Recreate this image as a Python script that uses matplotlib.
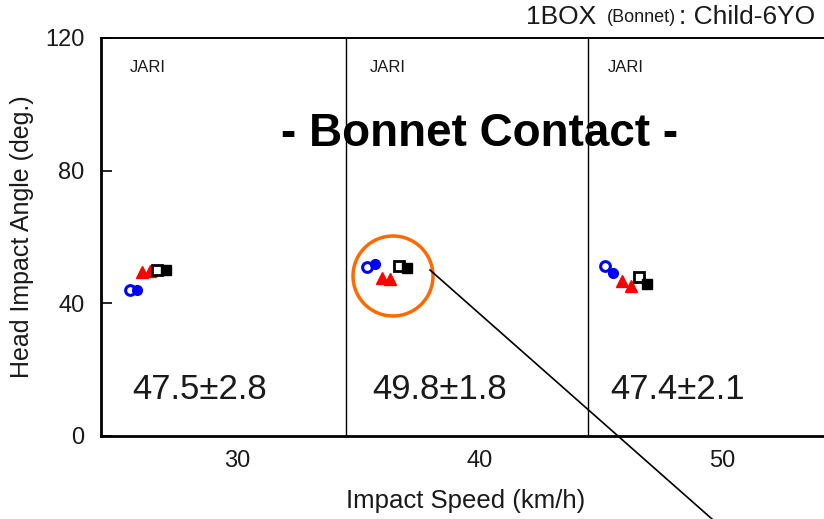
import matplotlib
matplotlib.use("Agg")
import matplotlib.pyplot as plt
from matplotlib.lines import Line2D
from matplotlib.patches import Ellipse

plt.rcParams["font.family"] = ["Liberation Sans", "DejaVu Sans"]

# head impact angle vs impact speed, three speed groups
blue_open_x = [25.6, 35.35, 45.2]
blue_open_y = [44.0, 51.0, 51.2]
blue_fill_x = [25.9, 35.7, 45.5]
blue_fill_y = [44.0, 51.9, 49.1]
red_a_x = [26.1, 36.0, 45.9]
red_a_y = [49.4, 47.6, 46.7]
red_b_x = [26.4, 36.3, 46.25]
red_b_y = [49.6, 47.3, 45.2]
black_open_x = [26.7, 36.7, 46.6]
black_open_y = [50.0, 51.2, 47.9]
black_fill_x = [27.1, 37.0, 46.9]
black_fill_y = [50.2, 50.6, 45.8]

group_dividers = [34.5, 44.5]
group_text_x = [25.6, 35.5, 45.3]
group_means = ["47.5\u00b12.8", "49.8\u00b11.8", "47.4\u00b12.1"]

TXT = "#1a1a1a"

fig = plt.figure(figsize=(8.24, 5.19), dpi=100)
ax = fig.add_axes([101 / 824, 83 / 519, 730 / 824, 398 / 519])

ms = 7
ax.plot(blue_open_x, blue_open_y, "o", ms=ms, mfc="white", mec="blue", mew=2.2, ls="none")
ax.plot(blue_fill_x, blue_fill_y, "o", ms=ms, color="blue", ls="none")
ax.plot(red_a_x, red_a_y, "^", ms=ms + 1, color="red", ls="none")
ax.plot(red_b_x, red_b_y, "^", ms=ms + 1, color="red", ls="none")
ax.plot(black_open_x, black_open_y, "s", ms=ms, mfc="white", mec="black", mew=2, ls="none")
ax.plot(black_fill_x, black_fill_y, "s", ms=ms, color="black", ls="none")

for xd in group_dividers:
    ax.axvline(xd, color="black", lw=1.0)

for xt, m in zip(group_text_x, group_means):
    ax.text(xt, 111, "JARI", fontsize=12, color=TXT, va="center")
    ax.text(xt + 0.1, 14, m, fontsize=25, color=TXT, va="center")

ax.text(40.0, 91, "- Bonnet Contact -", fontsize=33, fontweight="bold",
        ha="center", va="center")

ax.set_xlim(24.4, 54.5)
ax.set_ylim(0, 120)
ax.set_xticks([30, 40, 50])
ax.set_yticks([0, 40, 80, 120])
ax.tick_params(axis="x", length=0, pad=10, labelsize=17, labelcolor=TXT)
ax.tick_params(axis="y", direction="in", length=8, width=1.2, pad=12,
               labelsize=17, labelcolor=TXT)
ax.spines["left"].set_linewidth(2)
ax.spines["bottom"].set_linewidth(2)
ax.spines["top"].set_linewidth(1.4)
ax.spines["right"].set_visible(False)

ax.set_xlabel("Impact Speed (km/h)", fontsize=18.5, color=TXT, labelpad=12)
ax.set_ylabel("Head Impact Angle (deg.)", fontsize=18, color=TXT, labelpad=8)

# header: pieces laid out right to left
fig.canvas.draw()
renderer = fig.canvas.get_renderer()
x_right = 815 / 824
for s, fs in [(": Child-6YO", 19), ("(Bonnet)", 13), ("1BOX ", 19)]:
    t = fig.text(x_right, 1 - 17 / 519, s, fontsize=fs, color=TXT,
                 ha="right", va="center")
    bb = t.get_window_extent(renderer)
    x_right = bb.x0 / fig.bbox.width - 3 / 824

# highlight of the middle group and its leader line
fig.add_artist(Ellipse((393 / 824, 1 - 276 / 519), 80 / 824, 80 / 519,
                       fill=False, ec="#ff6a00", lw=2.5))
fig.add_artist(Line2D([430 / 824, 712 / 824], [1 - 270 / 519, 0.0],
                      color="black", lw=1.2))

fig.savefig("out.png", dpi=100)
